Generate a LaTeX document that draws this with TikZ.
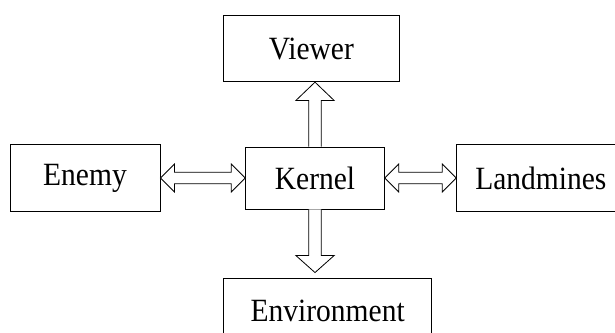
\documentclass[tikz,border=0pt]{standalone}
\usepackage{fontspec}
\usepackage{graphicx}
\setmainfont{Liberation Serif}
\usetikzlibrary{calc}
% labels are set slightly taller than the font's natural shape
\newcommand\tall[1]{\scalebox{1}[1.1]{#1}}
\begin{document}
\begin{tikzpicture}[x=1pt,y=1pt,
  box/.style={draw, line width=0.9pt, inner sep=0pt, align=center,
    font=\fontsize{29.5}{34}\selectfont},
  blk/.style={draw, fill=white, line width=0.8pt, line join=miter}]
\useasboundingbox (0,0) rectangle (615,-332);

% modules
\node[box, minimum width=138.6, minimum height=62]  (kernel)    at (315,-178)   {\tall{Kernel}};
\node[box, minimum width=176,   minimum height=66]  (viewer)    at (311.3,-48.7) {\tall{Viewer}};
\node[box, minimum width=150,   minimum height=67.4] (enemy)    at (85,-178)    {\tall{Enemy}};
\node[box, minimum width=168.3, minimum height=67.4] (landmines) at (540.8,-178) {\tall{Landmines}};
\node[box, minimum width=208,   minimum height=66]  (env)       at (327.7,-311) {\tall{Environment}};

% kernel -> viewer
\draw[blk] ($(kernel.north)+(-6.3,0)$) -- ++(0,46) -- ++(-12.9,0)
  -- (kernel.north |- viewer.south) -- ($(kernel.north)+(19.2,46)$)
  -- ++(-12.9,0) -- ++(0,-46);

% kernel -> environment
\coordinate (envtip) at ($(kernel.south |- env.north)+(0,5)$);
\draw[blk] ($(kernel.south)+(-6.3,0)$) -- ++(0,-46) -- ++(-12.9,0)
  -- (envtip) -- ($(kernel.south)+(19.2,-46)$)
  -- ++(-12.9,0) -- ++(0,46);

% enemy <-> kernel
\draw[blk] (enemy.east) -- ++(14,14) -- ++(0,-8.3)
  -- ($(kernel.west)+(-14,5.7)$) -- ++(0,8.3) -- (kernel.west)
  -- ++(-14,-14) -- ++(0,8.3) -- ($(enemy.east)+(14,-5.7)$)
  -- ++(0,-8.3) -- cycle;

% kernel <-> landmines
\draw[blk] (kernel.east) -- ++(14,14) -- ++(0,-8.3)
  -- ($(landmines.west)+(-14,5.7)$) -- ++(0,8.3) -- (landmines.west)
  -- ++(-14,-14) -- ++(0,8.3) -- ($(kernel.east)+(14,-5.7)$)
  -- ++(0,-8.3) -- cycle;
\end{tikzpicture}
\end{document}
